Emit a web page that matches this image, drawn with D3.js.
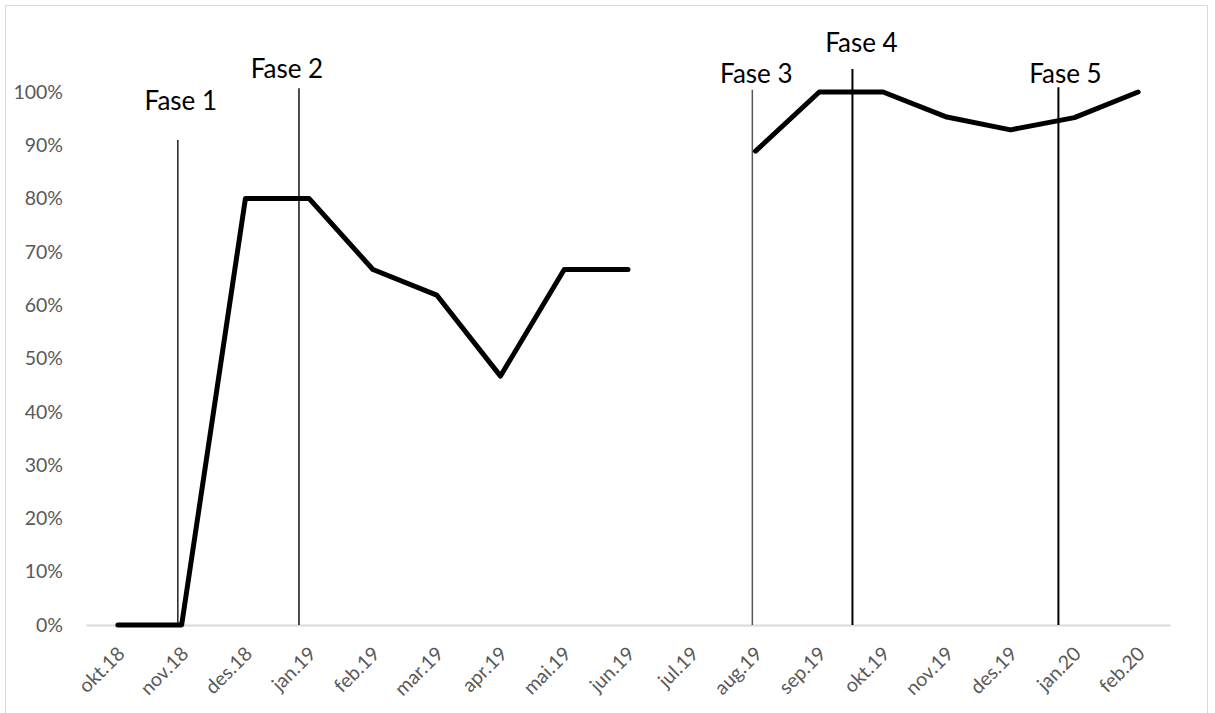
<!DOCTYPE html>
<html>
<head>
<meta charset="utf-8">
<script src="https://cdn.jsdelivr.net/npm/d3@7"></script>
<style>
  body { margin: 0; background: #fff; }
  text { font-family: Lato, 'Open Sans', sans-serif; }
</style>
</head>
<body>
<script>
'use strict'

// categories (months) and share per month, null = no data
const months = ['okt.18', 'nov.18', 'des.18', 'jan.19', 'feb.19', 'mar.19', 'apr.19', 'mai.19', 'jun.19',
  'jul.19', 'aug.19', 'sep.19', 'okt.19', 'nov.19', 'des.19', 'jan.20', 'feb.20']
const share = [0, 0, 0.80, 0.80, 0.667, 0.619, 0.467, 0.667, 0.667,
  null, 0.889, 1.0, 1.0, 0.953, 0.929, 0.952, 1.0]
const yTicks = [0, 0.1, 0.2, 0.3, 0.4, 0.5, 0.6, 0.7, 0.8, 0.9, 1.0]

// phase markers: label and position in month index units
const phaseLabels = ['Fase 1', 'Fase 2', 'Fase 3', 'Fase 4', 'Fase 5']
const phaseAt = [0.94, 2.84, 9.95, 11.52, 14.75]

// layout for the phase markers (line top / label baseline, in y units)
const phaseLineTop = [0.91, 1.007, 1.004, 1.043, 1.009]
const phaseLabelY = [0.966, 1.026, 1.017, 1.075, 1.017]
const phaseLabelDx = [3, -12, 4, 9, 7]
const phaseStroke = ['#222', '#111', '#555', '#000', '#000']
const phaseWidth = [1.5, 1.5, 1.5, 2, 2]

const W = 1215, H = 713
const plotLeft = 86, plotRight = 1170, plotTop = 92, plotBottom = 625

const svg = d3.select('body').append('svg')
  .attr('width', W)
  .attr('height', H)

svg.append('rect')
  .attr('x', 5.5).attr('y', 5.5)
  .attr('width', 1202).attr('height', 712)
  .attr('fill', 'none')
  .style('stroke', '#d9d9d9')
  .style('stroke-width', 1)

const x = d3.scaleBand().domain(months).range([plotLeft, plotRight])
const y = d3.scaleLinear().domain([0, 1]).range([plotBottom, plotTop])
const xi = i => plotLeft + x.step() * (i + 0.5)

// y axis labels
const yAxis = svg.append('g')
  .attr('transform', `translate(${ plotLeft - 23 }, 0)`)
  .call(d3.axisLeft(y).tickValues(yTicks).tickFormat(d3.format('.0%')).tickSize(0).tickPadding(0))
yAxis.select('.domain').remove()
yAxis.selectAll('text')
  .attr('fill', '#595959')
  .style('font-size', '19.5px')

// baseline + x labels
const xAxis = svg.append('g')
  .attr('transform', `translate(0, ${ plotBottom })`)
  .call(d3.axisBottom(x).tickSize(0).tickPadding(0))
xAxis.select('.domain')
  .style('stroke', '#d9d9d9')
  .style('stroke-width', 2)
xAxis.selectAll('text')
  .attr('fill', '#595959')
  .style('font-size', '19.5px')
  .attr('text-anchor', 'end')
  .attr('dy', 0)
  .attr('transform', 'translate(8, 30) rotate(-45)')

// phase lines
const phases = svg.append('g')
phaseLabels.forEach((label, i) => {
  phases.append('line')
    .attr('x1', xi(phaseAt[i])).attr('x2', xi(phaseAt[i]))
    .attr('y1', y(phaseLineTop[i])).attr('y2', y(0))
    .style('stroke', phaseStroke[i])
    .style('stroke-width', phaseWidth[i])
  phases.append('text')
    .attr('x', xi(phaseAt[i]) + phaseLabelDx[i])
    .attr('y', y(phaseLabelY[i]))
    .attr('text-anchor', 'middle')
    .attr('fill', '#000')
    .style('font-size', '26px')
    .text(label)
})

// the series
const line = d3.line()
  .defined(d => d !== null)
  .x((d, i) => x(months[i]) + x.bandwidth() / 2)
  .y(d => y(d))

svg.append('path')
  .datum(share)
  .attr('d', line)
  .attr('fill', 'none')
  .style('stroke', '#000')
  .style('stroke-width', 5)
  .style('stroke-linejoin', 'round')
  .style('stroke-linecap', 'round')
</script>
</body>
</html>
